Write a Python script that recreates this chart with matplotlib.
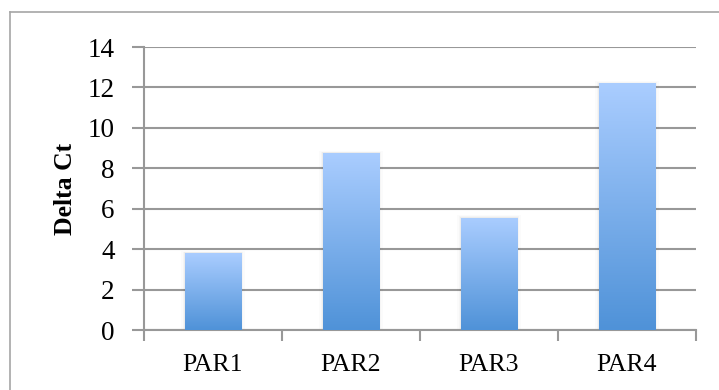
import numpy as np
import matplotlib.pyplot as plt
from matplotlib.colors import LinearSegmentedColormap
from matplotlib.lines import Line2D

# data
categories = ["PAR1", "PAR2", "PAR3", "PAR4"]
delta_ct = [3.8, 8.75, 5.55, 12.2]
y_ticks = [0, 2, 4, 6, 8, 10, 12, 14]

fig = plt.figure(figsize=(7.19, 3.9), dpi=100)
ax = fig.add_axes([144 / 719, 1 - 330 / 390, 552 / 719, 283 / 390])

# outer chart border (only left/top visible in the frame)
fig.add_artist(Line2D([10 / 719, 10 / 719], [0, 1 - 12 / 390], transform=fig.transFigure,
                      color="#a6a6a6", lw=1.2))
fig.add_artist(Line2D([10 / 719, 1], [1 - 12 / 390, 1 - 12 / 390], transform=fig.transFigure,
                      color="#a6a6a6", lw=1.2))

x = np.arange(len(categories))
bars = ax.bar(x, delta_ct, width=0.41, color="none", edgecolor="none", zorder=3)

# vertical gradient fill, light on top, darker at the base
cmap = LinearSegmentedColormap.from_list("grad", ["#4f92d8", "#aacdff"])
grad = np.linspace(0, 1, 256).reshape(-1, 1)
for b in bars:
    x0, y0, w, h = b.get_x(), b.get_y(), b.get_width(), b.get_height()
    # soft shadow
    for k, a in enumerate([0.035, 0.025, 0.015]):
        d = 0.008 * (k + 1)
        ax.add_patch(plt.Rectangle((x0 - d, y0), w + 2 * d, h + d * 5, color="black",
                                   alpha=a, lw=0, zorder=2))
    im = ax.imshow(grad, extent=[x0, x0 + w, y0, y0 + h], origin="lower", cmap=cmap,
                   aspect="auto", zorder=3)
    im.set_clip_path(b)

ax.set_xlim(-0.5, len(categories) - 0.5)
ax.set_ylim(0, 14)
ax.set_yticks(y_ticks)
ax.set_xticks(x)
ax.set_xticklabels(categories)
ax.set_xticks(np.arange(len(categories) + 1) - 0.5, minor=True)

ax.yaxis.grid(True, color="#989898", lw=1.5, zorder=1)
ax.set_axisbelow(True)

for s in ["top", "right"]:
    ax.spines[s].set_visible(False)
for s in ["left", "bottom"]:
    ax.spines[s].set_color("#989898")
    ax.spines[s].set_linewidth(1.5)

font = "Liberation Serif"
ax.tick_params(axis="y", length=9, width=1.5, color="#989898", pad=12,
               labelsize=19.5, labelfontfamily=font)
ax.tick_params(axis="x", which="major", length=0, pad=17, labelsize=18.5, labelfontfamily=font)
ax.tick_params(axis="x", which="minor", length=8, width=1.5, color="#989898")

ax.set_ylabel("Delta Ct", fontsize=18.5, fontweight="bold", family=font, labelpad=8)

fig.savefig("out.png", dpi=100)
